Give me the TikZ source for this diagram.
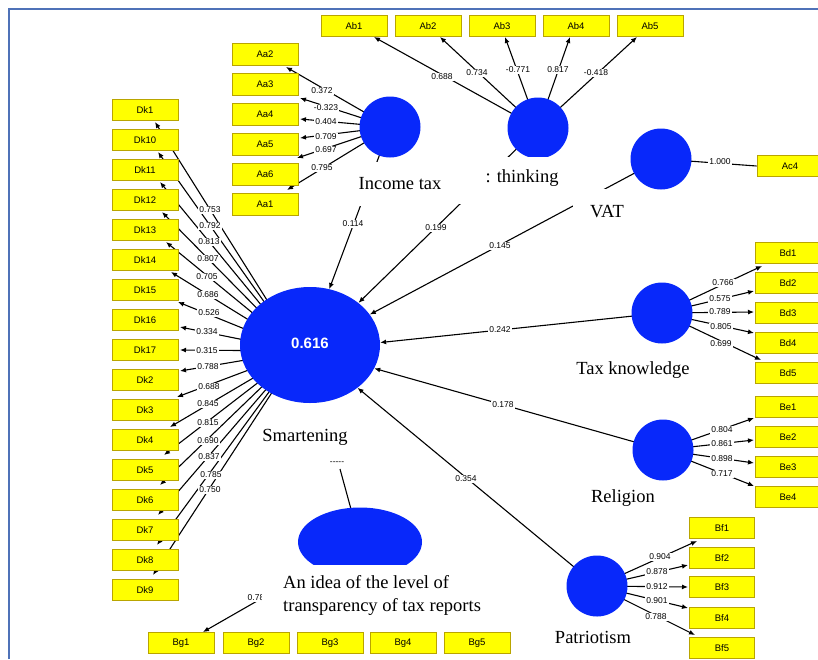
\documentclass[tikz,border=0pt]{standalone}
\usepackage{fontspec}
\setmainfont{Liberation Serif}
\newfontfamily\sansf{Liberation Sans}
\usetikzlibrary{arrows.meta,shapes.geometric}
\definecolor{lvblue}{RGB}{8,40,250}
\definecolor{boxyel}{RGB}{255,255,0}
\definecolor{boxedge}{RGB}{185,165,0}
\definecolor{framec}{RGB}{79,114,184}
\pgfdeclarelayer{bg}
\pgfsetlayers{bg,main}
\begin{document}
\begin{tikzpicture}[x=1pt,y=-1pt,
  ind/.style={draw=boxedge, fill=boxyel, line width=0.9pt, minimum width=66pt, minimum height=21pt, inner sep=0pt, font=\sansf\fontsize{9.5}{10}\selectfont},
  lv/.style={circle, fill=lvblue, minimum size=61pt, inner sep=0pt},
  conn/.style={line width=1.1pt, -{Latex[length=6pt,width=5pt]}},
  plainc/.style={line width=1.1pt},
  coef/.style={fill=white, inner sep=1.1pt, font=\sansf\fontsize{8.5}{9}\selectfont},
  lvname/.style={font=\fontsize{18.5}{23}\selectfont, inner sep=0pt}]
\useasboundingbox (0,0) rectangle (818,659);
\begin{pgfonlayer}{bg}
\fill[white] (0,0) rectangle (818,659);
\end{pgfonlayer}
\clip (0,0) rectangle (818,659);
\draw[framec, line width=1.5pt] (9,659) -- (9,9) -- (818,9);

% latent variables
\node[ellipse, fill=lvblue, minimum width=140pt, minimum height=116pt, inner sep=0pt, text=white, font=\sansf\bfseries\fontsize{15}{16}\selectfont] (sm) at (310,345) {\raisebox{3pt}{0.616}};
\node[lv] (it) at (390,127) {};
\node[lv] (ab) at (538,128) {};
\node[lv] (vat) at (661,159) {};
\node[lv] (tk) at (662,313) {};
\node[lv] (rel) at (663,450) {};
\node[lv] (pat) at (597,586) {};
\node[ellipse, fill=lvblue, minimum width=124pt, minimum height=69pt, inner sep=0pt] (tr) at (360,542) {};
\coordinate (hub) at (299,351);

% Dk indicators
\foreach \n/\y in {Dk1/110, Dk10/140, Dk11/170, Dk12/200, Dk13/230, Dk14/260, Dk15/290, Dk16/320, Dk17/350, Dk2/380, Dk3/410, Dk4/440, Dk5/470, Dk6/500, Dk7/530, Dk8/560, Dk9/590}
  \node[ind] (\n) at (145,\y) {\n};
\foreach \i/\tx/\ty/\v/\lx/\ly in {1/155/122/0.753/210/210, 2/158/152/0.792/210/226, 3/160/182/0.813/209/242, 4/162/212/0.807/208/259, 5/166/242/0.705/207/277, 6/171/272/0.686/208/295, 7/178/302/0.526/209/313, 8/180/327/0.334/207/332, 9/180/350/0.315/207/351, 10/180/371/0.788/208/367, 11/177/397/0.688/209/387, 12/170/427/0.845/208/404, 13/164/455/0.815/208/423, 14/160/485/0.690/208/441, 15/158/515/0.837/209/457, 16/157/545/0.785/211/475, 17/153/575/0.750/210/490}{
  \coordinate (dkt\i) at (\tx,\ty);
  \begin{pgfonlayer}{bg}\draw[conn] (hub) -- (dkt\i);\end{pgfonlayer}
  \node[coef] (dkl\i) at (\lx,\ly) {\v};
}

% Aa indicators (Income tax)
\foreach \n/\y in {Aa2/54, Aa3/84, Aa4/114, Aa5/144, Aa6/174, Aa1/204}
  \node[ind, minimum height=22pt] (\n) at (265,\y) {\n};
\foreach \i/\tx/\ty/\v/\lx/\ly in {1/286/67/0.372/322/91, 2/300/98/-0.323/326/108, 3/300/119/0.404/326/122, 4/300/138/0.709/326/137, 5/297/158/0.697/326/150, 6/287/190/0.795/322/168}{
  \coordinate (aat\i) at (\tx,\ty);
  \begin{pgfonlayer}{bg}\draw[conn] (it.center) -- (aat\i);\end{pgfonlayer}
  \node[coef] (aal\i) at (\lx,\ly) {\v};
}

% Ab indicators
\foreach \n/\x in {Ab1/354, Ab2/428, Ab3/502, Ab4/576, Ab5/650}
  \node[ind] (\n) at (\x,26) {\n};
\foreach \i/\tx/\v/\lx/\ly in {1/374/0.688/442/77, 2/440/0.734/477/73, 3/505/-0.771/518/70, 4/570/0.817/558/70, 5/637/-0.418/596/73}{
  \coordinate (abt\i) at (\tx,37);
  \begin{pgfonlayer}{bg}\draw[conn] (ab.center) -- (abt\i);\end{pgfonlayer}
  \node[coef] (abl\i) at (\lx,\ly) {\v};
}

% VAT indicator
\node[ind] (Ac4) at (790,166) {Ac4};
\begin{pgfonlayer}{bg}\draw[plainc] (vat.center) -- (Ac4.west);\end{pgfonlayer}
\node[coef] (acl) at (720,162) {1.000};

% Bd indicators (Tax knowledge)
\foreach \n/\y in {Bd1/253, Bd2/283, Bd3/313, Bd4/343, Bd5/373}
  \node[ind] (\n) at (788,\y) {\n};
\foreach \i/\tx/\ty/\v/\lx/\ly in {1/762/266/0.766/723/283, 2/754/291/0.575/720/299, 3/754/312/0.789/720/312, 4/754/333/0.805/721/327, 5/761/360/0.699/721/344}{
  \coordinate (bdt\i) at (\tx,\ty);
  \begin{pgfonlayer}{bg}\draw[conn] (tk.center) -- (bdt\i);\end{pgfonlayer}
  \node[coef] (bdl\i) at (\lx,\ly) {\v};
}

% Be indicators (Religion)
\foreach \n/\y in {Be1/407, Be2/437, Be3/467, Be4/497}
  \node[ind] (\n) at (788,\y) {\n};
\foreach \i/\ty/\v/\ly in {1/418/0.804/430, 2/440/0.861/444, 3/463/0.898/459, 4/486/0.717/474}{
  \coordinate (bet\i) at (754,\ty);
  \begin{pgfonlayer}{bg}\draw[conn] (rel.center) -- (bet\i);\end{pgfonlayer}
  \node[coef] (bel\i) at (722,\ly) {\v};
}

% Bf indicators (Patriotism)
\foreach \n/\y in {Bf1/528, Bf2/558, Bf3/587, Bf4/618, Bf5/648}
  \node[ind, minimum width=65pt] (\n) at (722,\y) {\n};
\foreach \i/\tx/\ty/\v/\lx/\ly in {1/697/541/0.904/660/557, 2/688/565/0.878/657/572, 3/688/587/0.912/657/587, 4/688/608/0.901/657/601, 5/695/635/0.788/656/617}{
  \coordinate (bft\i) at (\tx,\ty);
  \begin{pgfonlayer}{bg}\draw[conn] (pat.center) -- (bft\i);\end{pgfonlayer}
  \node[coef] (bfl\i) at (\lx,\ly) {\v};
}

% Bg indicators
\foreach \n/\x in {Bg1/181, Bg2/256, Bg3/330, Bg4/403, Bg5/477}
  \node[ind] (\n) at (\x,643) {\n};
\coordinate (bgt) at (203,632);
\begin{pgfonlayer}{bg}\draw[conn] (tr.center) -- (bgt);\end{pgfonlayer}
\node[coef] (bgl) at (256,598) {0.78};

% structural paths into Smartening
\begin{pgfonlayer}{bg}
\draw[conn] (it.center) -- (sm.71);
\draw[conn] (ab.center) -- (sm.41);
\draw[conn] (vat.center) -- (sm.27);
\draw[conn] (tk.center) -- (sm.2);
\draw[conn] (rel.center) -- (sm.-20);
\draw[conn] (pat.center) -- (sm.-42);
\end{pgfonlayer}
\node[coef] (p1) at (353,224) {0.114};
\node[coef] (p2) at (436,228) {0.199};
\node[coef] (p3) at (500,246) {0.145};
\node[coef] (p4) at (500,330) {0.242};
\node[coef] (p5) at (503,405) {0.178};
\node[coef] (p6) at (466,479) {0.354};

\coordinate (trl) at (340,469);
\begin{pgfonlayer}{bg}\draw[plainc] (tr.center) -- (trl);\end{pgfonlayer}
\node[coef] (trdash) at (337,463) {-----};

% latent variable names
\node[lvname, fill=white, minimum width=90pt, minimum height=44pt] (itname) at (400,184) {Income tax};
\fill[white] (455,157) rectangle (575,204);
\node[lvname] (abname) at (522,178) {: thinking};
\node[lvname, fill=white, minimum width=68pt, minimum height=46pt] (vatname) at (607,212) {VAT};
\node[lvname] (tkname) at (633,370) {Tax knowledge};
\node[lvname] (relname) at (623,498) {Religion};
\node[lvname] (patname) at (593,637) {Patriotism};
\node[lvname] (smname) at (305,437) {Smartening};
\fill[white] (262,565) rectangle (490,628);
\node[lvname, align=left, anchor=west] (trname) at (283,595) {An idea of the level of\\transparency of tax reports};
\end{tikzpicture}
\end{document}
